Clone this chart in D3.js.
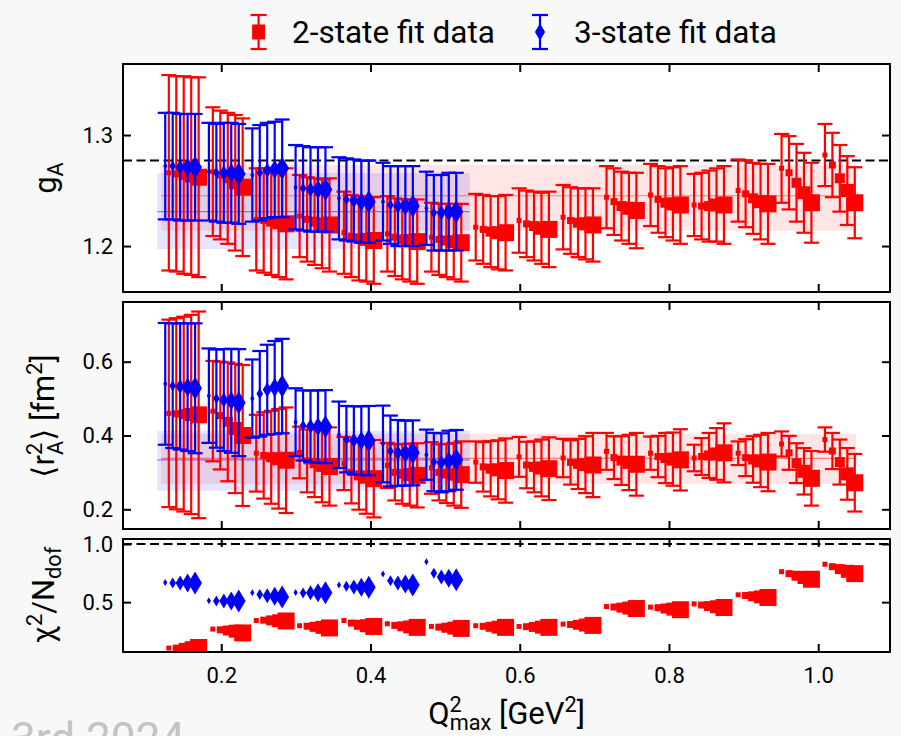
<!DOCTYPE html>
<html>
<head>
<meta charset="utf-8">
<script src="https://cdn.jsdelivr.net/npm/d3@7"></script>
<style>
  html, body { margin: 0; padding: 0; background: #f8f8f8; }
  svg { display: block; font-family: Roboto, "DejaVu Sans", sans-serif; }
</style>
</head>
<body>
<svg id="chart" width="901" height="736"></svg>
<script>
// ---- tick values ----
const xTicks = [0.2, 0.4, 0.6, 0.8, 1.0];
const gATicks = [1.2, 1.3];
const r2Ticks = [0.2, 0.4, 0.6];
const chiTicks = [0.5, 1.0];

// ---- per-fit horizontal shift inside a Q2max group and marker sizes ----
const fitShift = [0, 0.01, 0.02, 0.03, 0.04];
const squareSide = [5, 7, 10, 13, 17];
const diamondHeight = [7, 11, 15, 19, 23];

// ---- Q2max groups ----
const q2max2 = [0.1297, 0.1887, 0.2469, 0.3050, 0.3644, 0.4226, 0.4816, 0.5410,
                0.5991, 0.6581, 0.7163, 0.7753, 0.8337, 0.8927, 0.9509, 1.0090];
const q2max3 = [0.1249, 0.1834, 0.2416, 0.2996, 0.3577, 0.4167, 0.4749];

// ---- reference lines ----
const gARef = 1.277;
const chiRef = 1.0;

// ---- averaged bands [low, central, high] and their Q2 span ----
const bandSpan2 = [0.1195, 1.0506];
const bandSpan3 = [0.1142, 0.533];
const gABand2 = [1.2138, 1.2453, 1.273];
const gABand3 = [1.1973, 1.231, 1.2658];
const r2Band2 = [0.269, 0.338, 0.404];
const r2Band3 = [0.2505, 0.334, 0.4127];

// ---- 2-state fits ----
const gA2 = [
  [1.266, 1.265, 1.264, 1.263, 1.262],
  [1.267, 1.264, 1.261, 1.257, 1.253],
  [1.224, 1.223, 1.222, 1.221, 1.220],
  [1.227, 1.224, 1.222, 1.220, 1.219],
  [1.212, 1.209, 1.207, 1.206, 1.205],
  [1.211, 1.208, 1.206, 1.205, 1.204],
  [1.208, 1.206, 1.205, 1.204, 1.203],
  [1.217, 1.215, 1.213, 1.212, 1.212],
  [1.223, 1.220, 1.218, 1.216, 1.215],
  [1.226, 1.223, 1.221, 1.220, 1.219],
  [1.244, 1.240, 1.236, 1.234, 1.232],
  [1.246, 1.242, 1.239, 1.238, 1.237],
  [1.237, 1.236, 1.236, 1.237, 1.237],
  [1.250, 1.247, 1.243, 1.240, 1.238],
  [1.270, 1.266, 1.257, 1.248, 1.239],
  [1.282, 1.273, 1.261, 1.250, 1.239]
];
const gA2Err = [
  [0.088, 0.088, 0.089, 0.089, 0.090],
  [0.058, 0.058, 0.059, 0.061, 0.062],
  [0.046, 0.047, 0.048, 0.049, 0.050],
  [0.037, 0.038, 0.039, 0.040, 0.042],
  [0.037, 0.037, 0.038, 0.038, 0.039],
  [0.034, 0.035, 0.036, 0.037, 0.038],
  [0.031, 0.032, 0.033, 0.034, 0.035],
  [0.030, 0.031, 0.032, 0.033, 0.034],
  [0.029, 0.030, 0.031, 0.032, 0.034],
  [0.029, 0.030, 0.031, 0.032, 0.033],
  [0.028, 0.030, 0.031, 0.032, 0.034],
  [0.028, 0.030, 0.031, 0.033, 0.035],
  [0.028, 0.030, 0.032, 0.033, 0.035],
  [0.028, 0.030, 0.032, 0.034, 0.036],
  [0.031, 0.033, 0.035, 0.036, 0.036],
  [0.028, 0.029, 0.030, 0.031, 0.032]
];
const r2A2 = [
  [0.460, 0.459, 0.458, 0.457, 0.456],
  [0.466, 0.454, 0.437, 0.419, 0.400],
  [0.352, 0.346, 0.341, 0.337, 0.333],
  [0.354, 0.331, 0.325, 0.319, 0.316],
  [0.324, 0.300, 0.292, 0.287, 0.283],
  [0.319, 0.300, 0.296, 0.294, 0.292],
  [0.312, 0.300, 0.297, 0.295, 0.294],
  [0.328, 0.315, 0.310, 0.307, 0.305],
  [0.342, 0.320, 0.315, 0.312, 0.310],
  [0.339, 0.327, 0.323, 0.321, 0.320],
  [0.357, 0.340, 0.332, 0.327, 0.322],
  [0.352, 0.343, 0.339, 0.336, 0.334],
  [0.339, 0.343, 0.346, 0.350, 0.353],
  [0.352, 0.340, 0.335, 0.331, 0.328],
  [0.377, 0.353, 0.325, 0.303, 0.284],
  [0.389, 0.358, 0.328, 0.296, 0.272]
];
const r2A2Err = [
  [0.254, 0.259, 0.264, 0.270, 0.280],
  [0.136, 0.146, 0.161, 0.175, 0.191],
  [0.104, 0.117, 0.126, 0.135, 0.143],
  [0.070, 0.085, 0.092, 0.100, 0.106],
  [0.072, 0.084, 0.093, 0.099, 0.105],
  [0.061, 0.076, 0.081, 0.084, 0.087],
  [0.070, 0.076, 0.080, 0.085, 0.090],
  [0.056, 0.067, 0.075, 0.080, 0.087],
  [0.054, 0.063, 0.069, 0.077, 0.085],
  [0.052, 0.060, 0.068, 0.077, 0.087],
  [0.050, 0.058, 0.066, 0.075, 0.085],
  [0.045, 0.056, 0.068, 0.072, 0.083],
  [0.036, 0.050, 0.061, 0.070, 0.080],
  [0.032, 0.050, 0.063, 0.071, 0.079],
  [0.034, 0.046, 0.054, 0.063, 0.074],
  [0.033, 0.049, 0.061, 0.070, 0.078]
];
const chi2 = [
  [0.105, 0.105, 0.107, 0.108, 0.110],
  [0.268, 0.262, 0.256, 0.250, 0.235],
  [0.342, 0.345, 0.343, 0.340, 0.338],
  [0.297, 0.293, 0.288, 0.283, 0.278],
  [0.342, 0.320, 0.305, 0.297, 0.291],
  [0.314, 0.300, 0.292, 0.287, 0.283],
  [0.291, 0.285, 0.280, 0.277, 0.274],
  [0.297, 0.292, 0.288, 0.285, 0.283],
  [0.291, 0.289, 0.287, 0.285, 0.283],
  [0.311, 0.308, 0.305, 0.303, 0.300],
  [0.462, 0.458, 0.453, 0.449, 0.445],
  [0.457, 0.452, 0.445, 0.440, 0.435],
  [0.485, 0.475, 0.466, 0.460, 0.454],
  [0.563, 0.557, 0.550, 0.545, 0.540],
  [0.762, 0.745, 0.727, 0.712, 0.697],
  [0.826, 0.805, 0.784, 0.765, 0.745]
];

// ---- 3-state fits ----
const gA3 = [
  [1.272, 1.272, 1.271, 1.271, 1.271],
  [1.267, 1.266, 1.266, 1.266, 1.265],
  [1.264, 1.266, 1.268, 1.269, 1.270],
  [1.253, 1.252, 1.251, 1.251, 1.251],
  [1.243, 1.242, 1.241, 1.240, 1.240],
  [1.240, 1.237, 1.236, 1.236, 1.236],
  [1.234, 1.230, 1.230, 1.231, 1.231]
];
const gA3Err = [
  [0.048, 0.048, 0.048, 0.048, 0.048],
  [0.044, 0.044, 0.045, 0.045, 0.045],
  [0.042, 0.043, 0.043, 0.043, 0.044],
  [0.038, 0.038, 0.038, 0.038, 0.038],
  [0.037, 0.037, 0.037, 0.037, 0.037],
  [0.035, 0.035, 0.036, 0.036, 0.036],
  [0.033, 0.034, 0.034, 0.035, 0.035]
];
const r2A3 = [
  [0.540, 0.535, 0.533, 0.531, 0.528],
  [0.508, 0.500, 0.496, 0.494, 0.489],
  [0.500, 0.513, 0.524, 0.530, 0.534],
  [0.436, 0.427, 0.425, 0.424, 0.424],
  [0.402, 0.390, 0.387, 0.386, 0.386],
  [0.377, 0.358, 0.353, 0.352, 0.353],
  [0.348, 0.328, 0.326, 0.331, 0.334]
];
const r2A3Err = [
  [0.165, 0.169, 0.171, 0.173, 0.176],
  [0.128, 0.133, 0.138, 0.141, 0.145],
  [0.106, 0.116, 0.122, 0.126, 0.128],
  [0.092, 0.095, 0.097, 0.098, 0.099],
  [0.090, 0.090, 0.092, 0.093, 0.094],
  [0.104, 0.096, 0.089, 0.088, 0.088],
  [0.068, 0.079, 0.080, 0.082, 0.081]
];
const chi3 = [
  [0.668, 0.665, 0.665, 0.665, 0.665],
  [0.512, 0.510, 0.510, 0.510, 0.510],
  [0.580, 0.565, 0.556, 0.550, 0.545],
  [0.582, 0.578, 0.580, 0.580, 0.580],
  [0.648, 0.636, 0.630, 0.628, 0.628],
  [0.743, 0.683, 0.665, 0.655, 0.648],
  [0.848, 0.749, 0.716, 0.705, 0.692]
];

// ---- layout ----
const RED = "#ff0000", BLUE = "#0000ff";
const plotLeft = 123, plotRight = 890;
const tickFont = 22, labelFont = 31, legendFont = 31.5;
const capHalf = 7.5, barWidth = 2.2;

const svg = d3.select("#chart");
const x = d3.scaleLinear().domain([0.0683, 1.0962]).range([plotLeft, plotRight]);

const panels = [
  { id: "ga", top: 64, bottom: 292, domain: [1.1586, 1.364], ticks: gATicks },
  { id: "r2", top: 302, bottom: 529, domain: [0.1466, 0.7618], ticks: r2Ticks },
  { id: "chi", top: 539, bottom: 652, domain: [0.0712, 1.043], ticks: chiTicks }
];
panels.forEach(p => { p.y = d3.scaleLinear().domain(p.domain).range([p.bottom, p.top]); });

const defs = svg.append("defs");

function pointsOf(qs, vals, errs) {
  const pts = [];
  qs.forEach((q, i) => fitShift.forEach((s, j) => {
    pts.push({ q: q + s, v: vals[i][j], e: errs ? errs[i][j] : null, k: j });
  }));
  return pts;
}

function diamondPath(h) {
  const w = 0.6 * h;
  return `M0,${-h / 2}L${w / 2},0L0,${h / 2}L${-w / 2},0Z`;
}

function drawSeries(g, y, pts, color, shape) {
  const pg = g.selectAll(null).data(pts).join("g")
    .attr("transform", d => `translate(${x(d.q)},${y(d.v)})`);
  pg.filter(d => d.e !== null).each(function (d) {
    const s = d3.select(this);
    const yTop = y(d.v + d.e) - y(d.v), yBot = y(d.v - d.e) - y(d.v);
    s.append("line").attr("x1", 0).attr("x2", 0).attr("y1", yTop).attr("y2", yBot)
      .attr("stroke", color).attr("stroke-width", barWidth);
    [yTop, yBot].forEach(cy => s.append("line")
      .attr("x1", -capHalf).attr("x2", capHalf).attr("y1", cy).attr("y2", cy)
      .attr("stroke", color).attr("stroke-width", barWidth));
  });
  if (shape === "square") {
    pg.append("rect")
      .attr("x", d => -squareSide[d.k] / 2).attr("y", d => -squareSide[d.k] / 2)
      .attr("width", d => squareSide[d.k]).attr("height", d => squareSide[d.k])
      .attr("fill", color);
  } else {
    pg.append("path").attr("d", d => diamondPath(diamondHeight[d.k])).attr("fill", color);
  }
}

function drawBand(g, y, span, band, color, op) {
  g.append("rect")
    .attr("x", x(span[0])).attr("width", x(span[1]) - x(span[0]))
    .attr("y", y(band[2])).attr("height", y(band[0]) - y(band[2]))
    .attr("fill", color).attr("fill-opacity", op);
  g.append("line")
    .attr("x1", x(span[0])).attr("x2", x(span[1]))
    .attr("y1", y(band[1])).attr("y2", y(band[1]))
    .attr("stroke", color).attr("stroke-opacity", 0.45).attr("stroke-width", 1.2);
}

function drawRef(g, y, v) {
  g.append("line")
    .attr("x1", plotLeft).attr("x2", plotRight)
    .attr("y1", y(v)).attr("y2", y(v))
    .attr("stroke", "#000").attr("stroke-width", 2).attr("stroke-dasharray", "9,4.5");
}

const seriesByPanel = {
  ga: { bands: [[bandSpan2, gABand2, RED, 0.1], [bandSpan3, gABand3, BLUE, 0.1]], ref: gARef,
        s2: pointsOf(q2max2, gA2, gA2Err), s3: pointsOf(q2max3, gA3, gA3Err) },
  r2: { bands: [[bandSpan2, r2Band2, RED, 0.1], [bandSpan3, r2Band3, BLUE, 0.1]], ref: null,
        s2: pointsOf(q2max2, r2A2, r2A2Err), s3: pointsOf(q2max3, r2A3, r2A3Err) },
  chi: { bands: [], ref: chiRef,
        s2: pointsOf(q2max2, chi2, null), s3: pointsOf(q2max3, chi3, null) }
};

panels.forEach((p, idx) => {
  const cfg = seriesByPanel[p.id];
  defs.append("clipPath").attr("id", "clip-" + p.id).append("rect")
    .attr("x", plotLeft).attr("y", p.top)
    .attr("width", plotRight - plotLeft).attr("height", p.bottom - p.top);

  svg.append("rect").attr("x", plotLeft).attr("y", p.top)
    .attr("width", plotRight - plotLeft).attr("height", p.bottom - p.top)
    .attr("fill", "#fff");

  const g = svg.append("g").attr("clip-path", `url(#clip-${p.id})`);
  cfg.bands.forEach(b => drawBand(g, p.y, b[0], b[1], b[2], b[3]));
  if (cfg.ref !== null) drawRef(g, p.y, cfg.ref);
  drawSeries(g, p.y, cfg.s2, RED, "square");
  drawSeries(g, p.y, cfg.s3, BLUE, "diamond");

  // axes: inward ticks on all four sides, labels only left and on the lowest panel
  const isLast = idx === panels.length - 1;
  const axB = d3.axisBottom(x).tickValues(xTicks).tickSize(-8).tickPadding(15)
    .tickFormat(isLast ? d3.format(".1f") : () => "");
  const axT = d3.axisTop(x).tickValues(xTicks).tickSize(-8).tickFormat(() => "");
  const axL = d3.axisLeft(p.y).tickValues(p.ticks).tickSize(-8).tickPadding(10).tickFormat(d3.format(".1f"));
  const axR = d3.axisRight(p.y).tickValues(p.ticks).tickSize(-8).tickFormat(() => "");

  const addAxis = (ax, tr) => {
    const a = svg.append("g").attr("transform", tr).call(ax);
    a.select(".domain").remove();
    a.selectAll(".tick line").attr("stroke", "#000").attr("stroke-width", 2);
    a.selectAll(".tick text").attr("fill", "#000").attr("font-size", tickFont)
      .attr("font-family", "Roboto, 'DejaVu Sans', sans-serif");
    return a;
  };
  addAxis(axB, `translate(0,${p.bottom})`);
  addAxis(axT, `translate(0,${p.top})`);
  addAxis(axL, `translate(${plotLeft},0)`);
  addAxis(axR, `translate(${plotRight},0)`);

  svg.append("rect").attr("x", plotLeft).attr("y", p.top)
    .attr("width", plotRight - plotLeft).attr("height", p.bottom - p.top)
    .attr("fill", "none").attr("stroke", "#000").attr("stroke-width", 2);
});

// ---- axis labels ----
const sub = 0.7 * labelFont;

function rotLabel(cx, cy, build) {
  const t = svg.append("text")
    .attr("transform", `translate(${cx},${cy}) rotate(-90)`)
    .attr("text-anchor", "middle").attr("font-size", labelFont).attr("fill", "#000");
  build(t);
}

rotLabel(56, 178, t => {
  t.append("tspan").text("g");
  t.append("tspan").attr("font-size", sub).attr("dy", 7).text("A");
});

rotLabel(54, 416, t => {
  t.append("tspan").text("\u27E8r");
  t.append("tspan").attr("font-size", sub).attr("dy", -12).text("2");
  t.append("tspan").attr("font-size", sub).attr("dx", -12).attr("dy", 21).text("A");
  t.append("tspan").attr("dy", -9).text("\u27E9 [fm");
  t.append("tspan").attr("font-size", sub).attr("dy", -12).text("2");
  t.append("tspan").attr("dy", 12).text("]");
});

rotLabel(54, 595, t => {
  t.append("tspan").text("\u03C7");
  t.append("tspan").attr("font-size", sub).attr("dy", -12).text("2");
  t.append("tspan").attr("dy", 12).text("/N");
  t.append("tspan").attr("font-size", sub).attr("dy", 7).text("dof");
});

const xl = svg.append("text")
  .attr("x", (plotLeft + plotRight) / 2).attr("y", 724)
  .attr("text-anchor", "middle").attr("font-size", labelFont).attr("fill", "#000");
xl.append("tspan").text("Q");
xl.append("tspan").attr("font-size", sub).attr("dy", -12).text("2");
xl.append("tspan").attr("font-size", sub).attr("dx", -12).attr("dy", 18).text("max");
xl.append("tspan").attr("dy", -6).text(" [GeV");
xl.append("tspan").attr("font-size", sub).attr("dy", -12).text("2");
xl.append("tspan").attr("dy", 12).text("]");

// ---- legend ----
const legendItems = [
  { label: "2-state fit data", color: RED, shape: "square", mx: 258.6, tx: 292 },
  { label: "3-state fit data", color: BLUE, shape: "diamond", mx: 540, tx: 574 }
];
const lg = svg.append("g");
legendItems.forEach(it => {
  const g = lg.append("g").attr("transform", `translate(${it.mx},32)`);
  g.append("line").attr("x1", 0).attr("x2", 0).attr("y1", -17).attr("y2", 17)
    .attr("stroke", it.color).attr("stroke-width", barWidth);
  [-17, 17].forEach(cy => g.append("line").attr("x1", -8).attr("x2", 8)
    .attr("y1", cy).attr("y2", cy).attr("stroke", it.color).attr("stroke-width", barWidth));
  if (it.shape === "square") {
    g.append("rect").attr("x", -6.5).attr("y", -7.5).attr("width", 13).attr("height", 15).attr("fill", it.color);
  } else {
    g.append("path").attr("d", diamondPath(17)).attr("fill", it.color);
  }
  lg.append("text").attr("x", it.tx).attr("y", 43).attr("font-size", legendFont).attr("fill", "#000").text(it.label);
});

// ---- date stamp in the lower-left corner ----
svg.append("text").attr("x", 11).attr("y", 754).attr("font-size", 44)
  .attr("fill", "#c4c4c4").text("3rd 2024");
</script>
</body>
</html>
